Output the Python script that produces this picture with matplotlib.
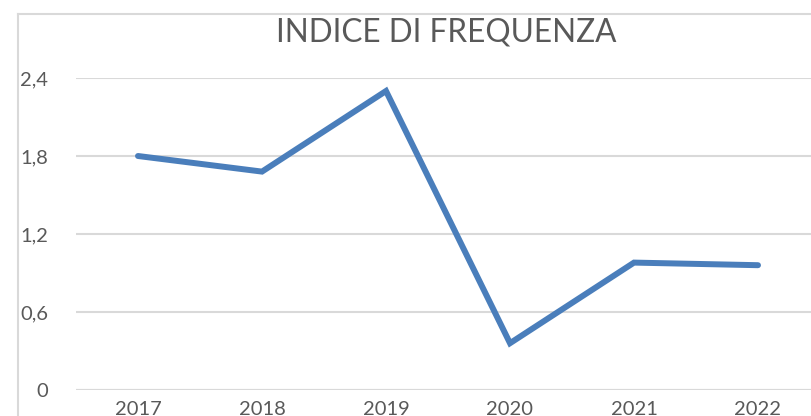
import matplotlib
matplotlib.use("Agg")
import matplotlib.pyplot as plt
from matplotlib.lines import Line2D

years = ["2017", "2018", "2019", "2020", "2021", "2022"]
indice = [1.80, 1.68, 2.30, 0.36, 0.98, 0.96]
yticks = [0, 0.6, 1.2, 1.8, 2.4]
ytick_labels = ["0", "0,6", "1,2", "1,8", "2,4"]
title = "INDICE DI FREQUENZA"

W, H = 812, 416
fig = plt.figure(figsize=(W / 100, H / 100), dpi=100)
fig.patch.set_facecolor("white")

left, right, bottom, top = 76, 820, 390, 78
ax = fig.add_axes([left / W, 1 - bottom / H, (right - left) / W, (bottom - top) / H])
ax.set_facecolor("none")
x = list(range(len(years)))
ax.plot(x, indice, color="#4a7ebb", lw=4.3, solid_joinstyle="miter", solid_capstyle="round", zorder=3)
ax.set_xlim(-0.5, len(years) - 0.5)
ax.set_ylim(0, 2.4)
ax.set_yticks(yticks)
ax.set_yticklabels(ytick_labels)
ax.set_xticks(x)
ax.set_xticklabels(years)
for s in ax.spines.values():
    s.set_visible(False)
ax.grid(axis="y", color="#d9d9d9", lw=1.5)
ax.set_axisbelow(True)
ax.tick_params(length=0, labelsize=14.5, labelcolor="#595959")
ax.tick_params(axis="y", pad=20)
ax.tick_params(axis="x", pad=8)
for lab in ax.get_xticklabels() + ax.get_yticklabels():
    lab.set_family("Lato")
ax.axhline(0, color="#d9d9d9", lw=1.5, zorder=1)

fig.text(446 / W, 1 - 32 / H, title, ha="center", va="center", fontsize=22.7,
         color="#595959", family="Lato")

# chart border (left and top visible)
fig.add_artist(Line2D([18 / W, 18 / W], [1 - 14 / H, 0], transform=fig.transFigure, color="#d9d9d9", lw=1.5))
fig.add_artist(Line2D([18 / W, 1], [1 - 14 / H, 1 - 14 / H], transform=fig.transFigure, color="#d9d9d9", lw=1.5))

fig.savefig("out.png", dpi=100)
